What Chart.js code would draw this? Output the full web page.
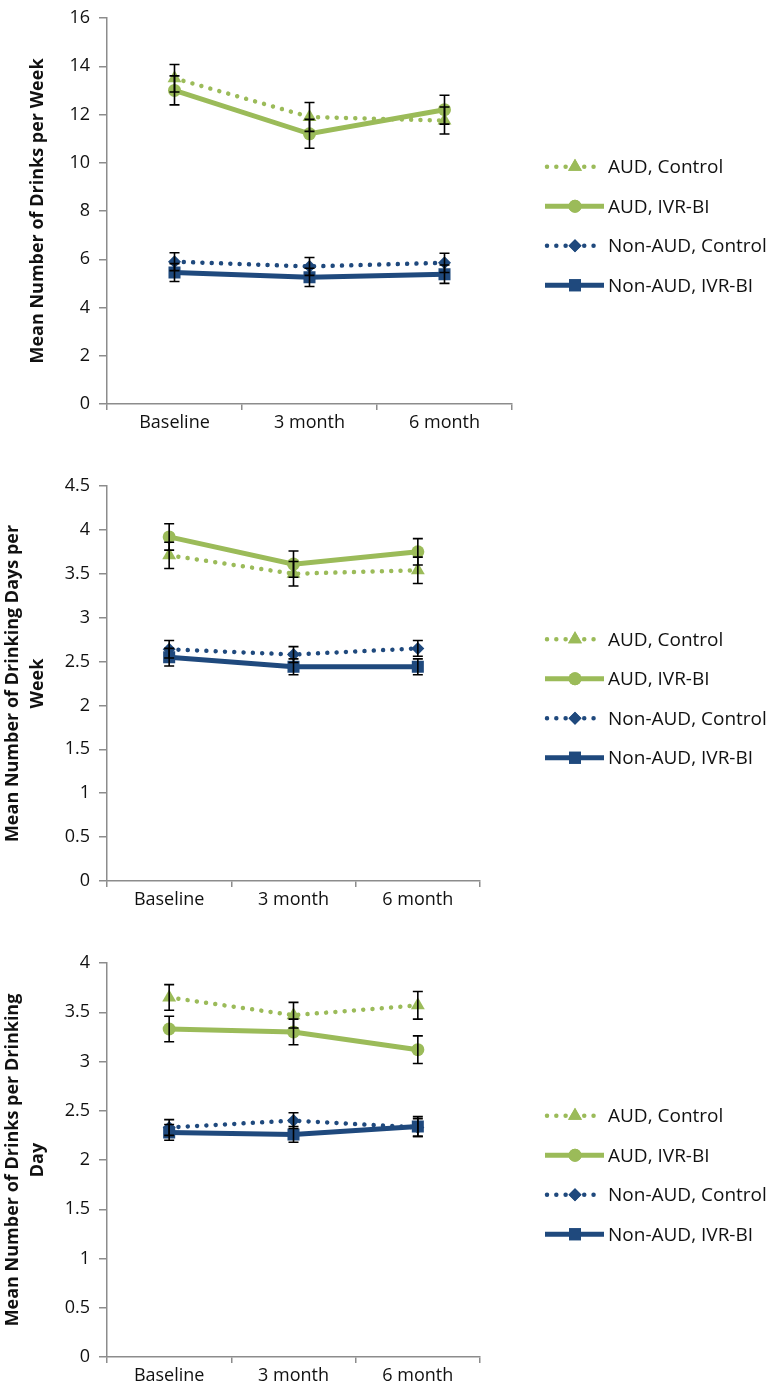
<!DOCTYPE html>
<html>
<head>
<meta charset="utf-8">
<script src="https://cdn.jsdelivr.net/npm/chart.js@4/dist/chart.umd.min.js"></script>
<style>
  body { margin: 0; background: #fff; }
  #wrap { position: relative; width: 768px; height: 1388px; overflow: hidden; }
  canvas { position: absolute; left: 0; }
</style>
</head>
<body>
<div id="wrap">
  <canvas id="c1" width="768" height="440" style="top:0px"></canvas>
  <canvas id="c2" width="768" height="480" style="top:440px"></canvas>
  <canvas id="c3" width="768" height="468" style="top:920px"></canvas>
</div>
<script>
// categories and series names
const timepoints = ['Baseline', '3 month', '6 month'];
const seriesNames = ['AUD, Control', 'AUD, IVR-BI', 'Non-AUD, Control', 'Non-AUD, IVR-BI'];

// panel 1: drinks per week (mean, se)
const weekAudControl = [13.5, 11.9, 11.75];
const weekAudControlSe = [0.57, 0.6, 0.56];
const weekAudIvr = [13.0, 11.2, 12.2];
const weekAudIvrSe = [0.6, 0.6, 0.6];
const weekNonControl = [5.9, 5.7, 5.85];
const weekNonControlSe = [0.37, 0.37, 0.4];
const weekNonIvr = [5.45, 5.25, 5.38];
const weekNonIvrSe = [0.37, 0.38, 0.38];

// panel 2: drinking days per week
const daysAudControl = [3.71, 3.50, 3.54];
const daysAudControlSe = [0.15, 0.14, 0.15];
const daysAudIvr = [3.92, 3.61, 3.75];
const daysAudIvrSe = [0.15, 0.15, 0.15];
const daysNonControl = [2.64, 2.58, 2.65];
const daysNonControlSe = [0.10, 0.09, 0.09];
const daysNonIvr = [2.55, 2.44, 2.44];
const daysNonIvrSe = [0.10, 0.09, 0.09];

// panel 3: drinks per drinking day
const perDayAudControl = [3.65, 3.47, 3.57];
const perDayAudControlSe = [0.13, 0.13, 0.14];
const perDayAudIvr = [3.33, 3.30, 3.12];
const perDayAudIvrSe = [0.13, 0.13, 0.14];
const perDayNonControl = [2.33, 2.40, 2.33];
const perDayNonControlSe = [0.08, 0.08, 0.09];
const perDayNonIvr = [2.28, 2.26, 2.34];
const perDayNonIvrSe = [0.08, 0.08, 0.1];

const green = '#9bbb59';
const blue = '#1f497d';
const FONT = '"Open Sans", Lato, sans-serif';

// style for each series (same order as seriesNames)
const styles = [
  { color: green, dotted: true, point: 'triangle', radius: 8 },
  { color: green, dotted: false, point: 'circle', radius: 6.5 },
  { color: blue, dotted: true, point: 'rectRot', radius: 6.5 },
  { color: blue, dotted: false, point: 'rect', radius: 8.5 }
];

function makeDatasets(values, errors) {
  return values.map((v, i) => {
    const s = styles[i];
    return {
      label: seriesNames[i],
      data: v,
      errors: errors[i],
      borderColor: s.color,
      backgroundColor: s.color,
      borderWidth: s.dotted ? 4.5 : 5,
      borderDash: s.dotted ? [0.01, 9.3] : [],
      borderCapStyle: 'round',
      pointStyle: s.point,
      pointRadius: s.radius,
      pointBorderWidth: 0,
      pointBackgroundColor: s.color,
      tension: 0,
      order: 4 - i
    };
  });
}

// black error bars drawn from the y scale
const errorBars = {
  id: 'errorBars',
  afterDatasetsDraw(chart) {
    const ctx = chart.ctx;
    const y = chart.scales.y;
    ctx.save();
    ctx.strokeStyle = '#000';
    ctx.lineWidth = 1.6;
    chart.data.datasets.forEach((ds, di) => {
      const meta = chart.getDatasetMeta(di);
      meta.data.forEach((pt, i) => {
        const top = y.getPixelForValue(ds.data[i] + ds.errors[i]);
        const bot = y.getPixelForValue(ds.data[i] - ds.errors[i]);
        ctx.beginPath();
        ctx.moveTo(pt.x, top); ctx.lineTo(pt.x, bot);
        ctx.moveTo(pt.x - 5, top); ctx.lineTo(pt.x + 5, top);
        ctx.moveTo(pt.x - 5, bot); ctx.lineTo(pt.x + 5, bot);
        ctx.stroke();
      });
    });
    ctx.restore();
  }
};

// legend to the right, with line + marker samples
const sideLegend = {
  id: 'sideLegend',
  afterDraw(chart) {
    const ctx = chart.ctx;
    const area = chart.chartArea;
    const rowGap = 39.5;
    const mid = (area.top + area.bottom) / 2 + 15;
    const x0 = 545;
    ctx.save();
    chart.data.datasets.forEach((ds, i) => {
      const yy = mid + (i - 1.5) * rowGap;
      const s = styles[i];
      ctx.strokeStyle = s.color;
      ctx.lineCap = 'round';
      ctx.lineWidth = ds.borderWidth;
      ctx.setLineDash(s.dotted ? [0.01, 9.3] : []);
      ctx.beginPath();
      if (s.dotted) { ctx.moveTo(x0 + 2, yy); ctx.lineTo(x0 + 54, yy); }
      else { ctx.lineCap = 'butt'; ctx.moveTo(x0, yy); ctx.lineTo(x0 + 59, yy); }
      ctx.stroke();
      ctx.setLineDash([]);
      ctx.fillStyle = s.color;
      Chart.helpers.drawPoint(ctx, { pointStyle: s.point, radius: s.radius, rotation: 0, borderWidth: 0 }, x0 + 30, yy);
      ctx.fill();
      ctx.fillStyle = '#111';
      ctx.font = '19px ' + FONT;
      ctx.textBaseline = 'middle';
      ctx.textAlign = 'left';
      ctx.fillText(ds.label, x0 + 63, yy + 1);
    });
    ctx.restore();
  }
};

function makeChart(id, values, errors, yMax, yStep, title, titlePad, pad, xHeight) {
  const ctx = document.getElementById(id).getContext('2d');
  return new Chart(ctx, {
    type: 'line',
    data: { labels: timepoints, datasets: makeDatasets(values, errors) },
    options: {
      responsive: false,
      animation: false,
      events: [],
      layout: { padding: pad },
      plugins: { legend: { display: false }, tooltip: { enabled: false } },
      scales: {
        x: {
          offset: true,
          grid: { offset: true, drawOnChartArea: false, tickLength: 6, color: '#8c8c8c', lineWidth: 1.5 },
          border: { color: '#8c8c8c', width: 1.5 },
          ticks: { color: '#111', font: { family: FONT, size: 18 }, padding: 2, maxRotation: 0 },
          afterFit(s) { s.height = xHeight; }
        },
        y: {
          min: 0, max: yMax,
          grid: { drawOnChartArea: false, tickLength: 8, color: '#8c8c8c', lineWidth: 1.5 },
          border: { color: '#8c8c8c', width: 1.5 },
          ticks: { stepSize: yStep, color: '#111', padding: 9, font: { family: FONT, size: 18, lineHeight: 1 },
                   callback: (v) => String(Math.round(v * 10) / 10) },
          title: { display: true, text: title, color: '#111', padding: { top: titlePad, bottom: 0 },
                   font: { family: FONT, size: 18, weight: 'bold', lineHeight: 1.4 } },
          afterFit(s) { s.width = 107; }
        }
      }
    },
    plugins: [errorBars, sideLegend]
  });
}

makeChart('c1',
  [weekAudControl, weekAudIvr, weekNonControl, weekNonIvr],
  [weekAudControlSe, weekAudIvrSe, weekNonControlSe, weekNonIvrSe],
  16, 2, 'Mean Number of Drinks per Week', 25,
  { top: 9, right: 256, bottom: 0, left: 0 }, 36);

makeChart('c2',
  [daysAudControl, daysAudIvr, daysNonControl, daysNonIvr],
  [daysAudControlSe, daysAudIvrSe, daysNonControlSe, daysNonIvrSe],
  4.5, 0.5, ['Mean Number of Drinking Days per', 'Week'], 0,
  { top: 46, right: 288, bottom: 0, left: 0 }, 39);

makeChart('c3',
  [perDayAudControl, perDayAudIvr, perDayNonControl, perDayNonIvr],
  [perDayAudControlSe, perDayAudIvrSe, perDayNonControlSe, perDayNonIvrSe],
  4, 0.5, ['Mean Number of Drinks per Drinking', 'Day'], 0,
  { top: 43, right: 288, bottom: 0, left: 0 }, 31);
</script>
</body>
</html>
